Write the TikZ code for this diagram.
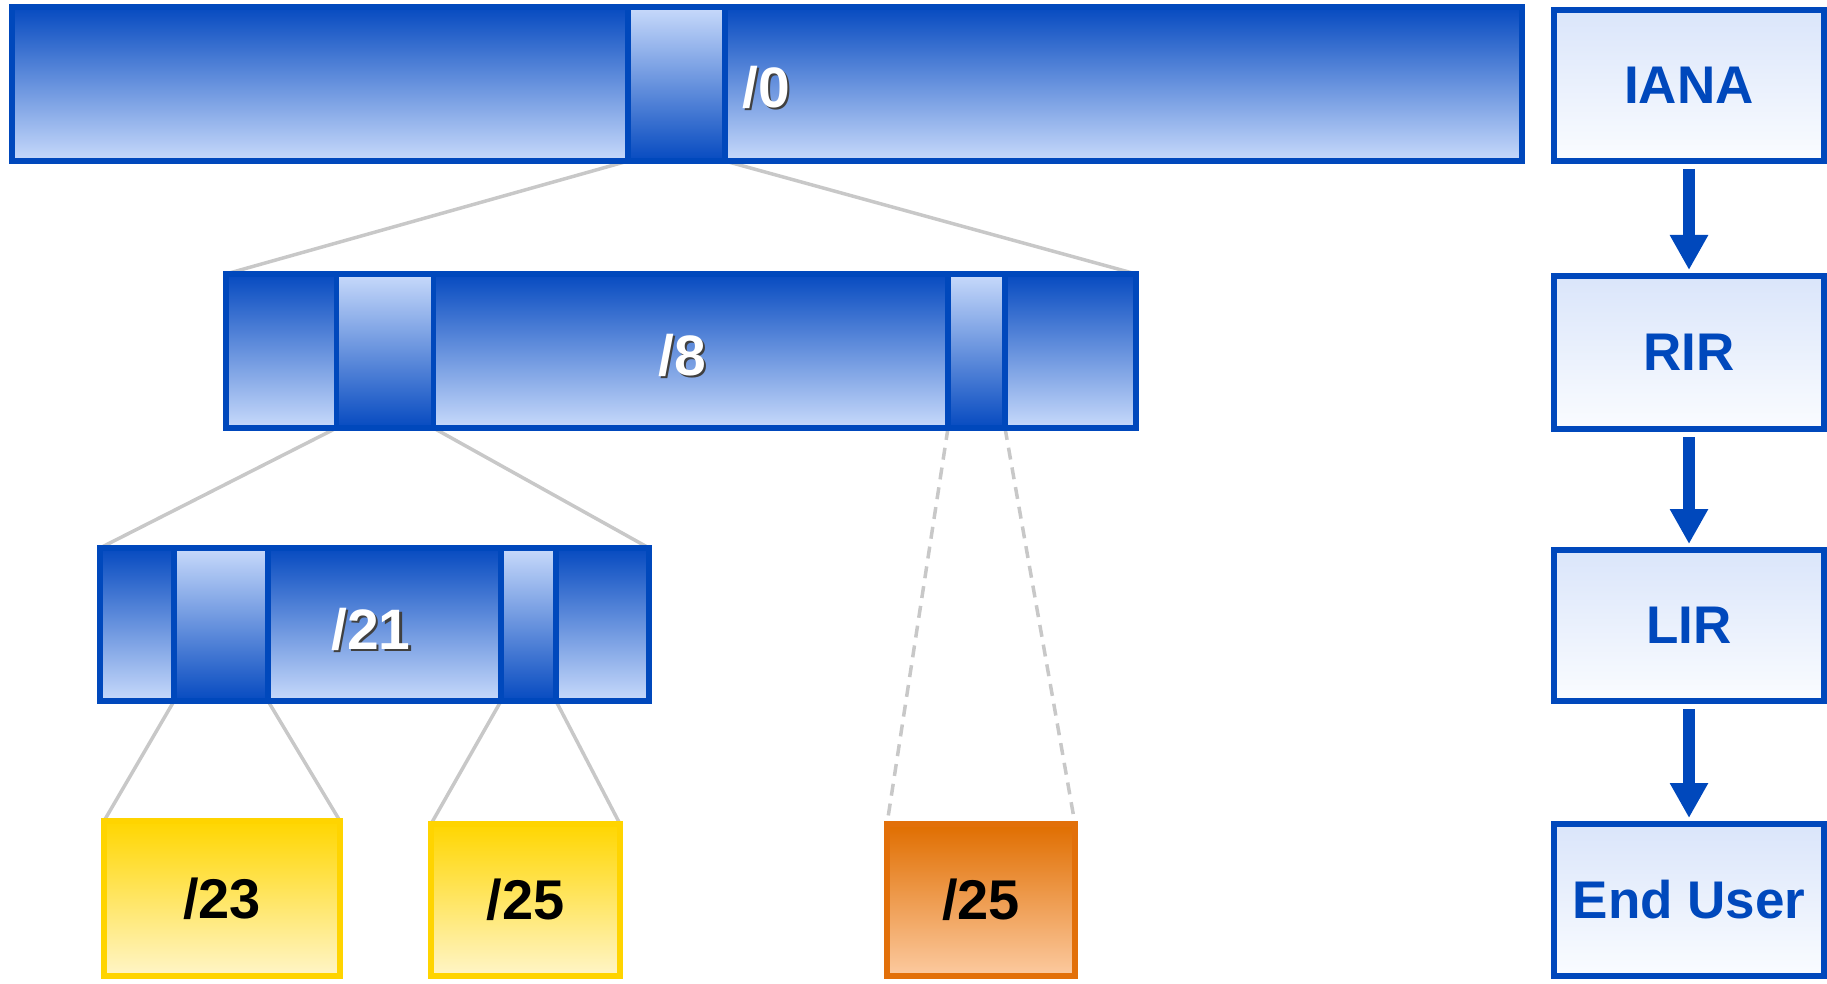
\documentclass[tikz,border=0pt]{standalone}
\usepackage{fontspec}
\setmainfont{Liberation Sans}
\usetikzlibrary{arrows.meta,backgrounds}
\definecolor{bdr}{RGB}{0,72,188}
\definecolor{bdark}{RGB}{6,74,192}
\definecolor{blight}{RGB}{200,218,251}
\definecolor{rtop}{RGB}{218,229,250}
\definecolor{rbot}{RGB}{250,252,255}
\definecolor{ytop}{RGB}{255,214,0}
\definecolor{ybot}{RGB}{255,245,200}
\definecolor{ybdr}{RGB}{255,212,0}
\definecolor{otop}{RGB}{224,110,0}
\definecolor{obot}{RGB}{252,202,160}
\definecolor{obdr}{RGB}{226,112,10}
\definecolor{gline}{RGB}{200,200,200}
\tikzset{
  bar/.style={rectangle, inner sep=0pt, outer sep=0pt, draw=bdr, line width=5.5pt, top color=bdark, bottom color=blight},
  subbox/.style={rectangle, inner sep=0pt, outer sep=0pt, draw=bdr, line width=5.5pt, top color=blight, bottom color=bdark},
  rbox/.style={rectangle, inner sep=0pt, outer sep=0pt, draw=bdr, line width=5.5pt, top color=rtop, bottom color=rbot, minimum width=270pt, text=bdr, font=\fontsize{53}{60}\selectfont\bfseries},
  ybox/.style={rectangle, inner sep=0pt, outer sep=0pt, draw=ybdr, line width=5.5pt, top color=ytop, bottom color=ybot, text=black, font=\fontsize{56}{60}\selectfont\bfseries},
  obox/.style={rectangle, inner sep=0pt, outer sep=0pt, draw=obdr, line width=5.5pt, top color=otop, bottom color=obot, text=black, font=\fontsize{56}{60}\selectfont\bfseries},
  lab/.style={inner sep=0pt, text=white, font=\fontsize{57}{60}\selectfont\bfseries},
  labshadow/.style={inner sep=0pt, text=black!75, font=\fontsize{57}{60}\selectfont\bfseries},
  link/.style={draw=gline, line width=3.5pt},
  dlink/.style={draw=gline, line width=3.5pt, dash pattern=on 12pt off 8pt},
  flow/.style={draw=bdr, line width=12pt, -{Triangle[width=36pt,length=35pt]}, shorten <=8pt, shorten >=6pt},
}
\begin{document}
\begin{tikzpicture}[x=1pt,y=1pt]
\useasboundingbox (0,0) rectangle (1827,-984);
% top bar
\node[bar, minimum width=1510pt, minimum height=154pt] (t0) at (767,-84) {};
\node[subbox, minimum width=97pt, minimum height=154pt] (s0) at (676.5,-84) {};
% /8 bar
\node[bar, minimum width=910pt, minimum height=154pt] (b8) at (681,-351) {};
\node[subbox, minimum width=97pt, minimum height=154pt] (s8a) at (385,-351) {};
\node[subbox, minimum width=57pt, minimum height=154pt] (s8b) at (976.5,-351) {};
% /21 bar
\node[bar, minimum width=549pt, minimum height=153pt] (b21) at (374.5,-624.5) {};
\node[subbox, minimum width=94pt, minimum height=153pt] (s21a) at (221,-624.5) {};
\node[subbox, minimum width=55pt, minimum height=153pt] (s21b) at (528.5,-624.5) {};
% leaves
\node[ybox, minimum width=236pt, minimum height=155pt] (y23) at (222,-898.5) {/23};
\node[ybox, minimum width=189pt, minimum height=152pt] (y25) at (525.5,-900) {/25};
\node[obox, minimum width=188pt, minimum height=152pt] (o25) at (981,-900) {/25};
% labels with shadow
\node[labshadow] (l0s) at (768.5,-89.5) {/0};
\node[lab] (l0) at (766,-87) {/0};
\node[labshadow] (l8s) at (684.5,-357.5) {/8};
\node[lab] (l8) at (682,-355) {/8};
\node[labshadow] (l21s) at (373.5,-631.5) {/21};
\node[lab] (l21) at (371,-629) {/21};
% right column
\node[rbox, minimum height=151pt] (iana) at (1689,-85.5) {IANA};
\node[rbox, minimum height=153pt] (rir) at (1689,-352.5) {RIR};
\node[rbox, minimum height=151pt] (lir) at (1689,-625.5) {LIR};
\node[rbox, minimum height=152pt] (eu) at (1689,-900) {End User};
\draw[flow] (iana) -- (rir);
\draw[flow] (rir) -- (lir);
\draw[flow] (lir) -- (eu);
% connectors
\begin{scope}[on background layer]
\draw[link] (s0.south west) -- (b8.north west);
\draw[link] (s0.south east) -- (b8.north east);
\draw[link] (s8a.south west) -- (b21.north west);
\draw[link] (s8a.south east) -- (b21.north east);
\draw[dlink] (s8b.south west) -- (o25.north west);
\draw[dlink] (s8b.south east) -- (o25.north east);
\draw[link] (s21a.south west) -- (y23.north west);
\draw[link] (s21a.south east) -- (y23.north east);
\draw[link] (s21b.south west) -- (y25.north west);
\draw[link] (s21b.south east) -- (y25.north east);
\end{scope}
\end{tikzpicture}
\end{document}
